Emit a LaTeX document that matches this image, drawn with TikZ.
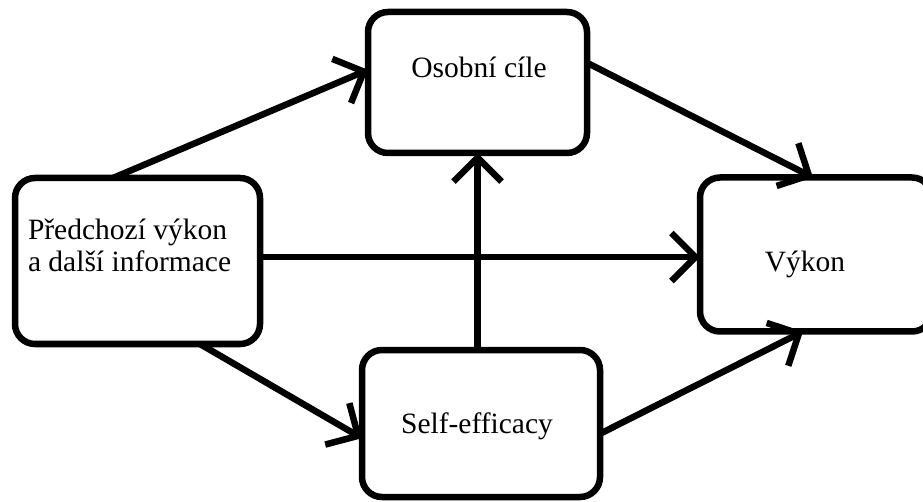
\documentclass[tikz,border=0pt]{standalone}
\usepackage{fontspec}
\setmainfont{Liberation Serif}
\usetikzlibrary{arrows.meta,calc}
\tikzset{
  box/.style={draw=black, line width=6.5pt, rounded corners=20pt, rectangle,
    inner sep=0pt, outer sep=0pt, fill=white},
  lbl/.style={inner sep=0pt, outer sep=0pt, font=\fontsize{29.5}{32}\selectfont, text=black},
  arr/.style={line width=6.5pt, -{Straight Barb[length=24pt,width=48pt]}}
}
\begin{document}
\begin{tikzpicture}[x=1pt,y=-1pt]
\useasboundingbox (0,0) rectangle (923,502);
\clip (0,0) rectangle (923,502);
\fill[white] (0,0) rectangle (923,502);

\node[box, minimum width=245pt, minimum height=166pt] (L) at (137.5,261) {};
\node[box, minimum width=219pt, minimum height=141pt] (T) at (477.5,82.5) {};
\node[box, minimum width=238pt, minimum height=147pt] (B) at (481,423.5) {};
\node[box, minimum width=232pt, minimum height=154pt] (R) at (816,254.5) {};

\node[lbl, anchor=base west, align=left] (Lt) at (28,272) {Předchozí výkon\\a další informace};
\node[lbl, anchor=base] (Tt) at (479,78) {Osobní cíle};
\node[lbl, anchor=base] (Bt) at (477,433) {Self-efficacy};
\node[lbl, anchor=base] (Rt) at (805,272) {Výkon};

\coordinate (a1) at ($(L.north west)!0.40!(L.north east)$);
\coordinate (b1) at ($(T.north west)!0.41!(T.south west)$);
\coordinate (a2) at ($(L.north east)!0.476!(L.south east)$);
\coordinate (a3) at ($(L.south west)!0.755!(L.south east)$);
\coordinate (b3) at ($(B.north west)!0.60!(B.south west)$);
\coordinate (a5) at ($(T.north east)!0.36!(T.south east)$);
\coordinate (b5) at ($(R.north west)!0.487!(R.north east)$);
\coordinate (a6) at ($(B.north east)!0.57!(B.south east)$);
\coordinate (b6) at ($(R.south west)!0.444!(R.south east)$);

\draw[arr] (a1) -- (b1);
\draw[arr] (a2) -- (a2 -| R.west);
\draw[arr] (a3) -- (b3);
\draw[arr] (B.north -| T.south) -- (T.south);
\draw[arr] (a5) -- (b5);
\draw[arr] (a6) -- (b6);
\end{tikzpicture}
\end{document}
